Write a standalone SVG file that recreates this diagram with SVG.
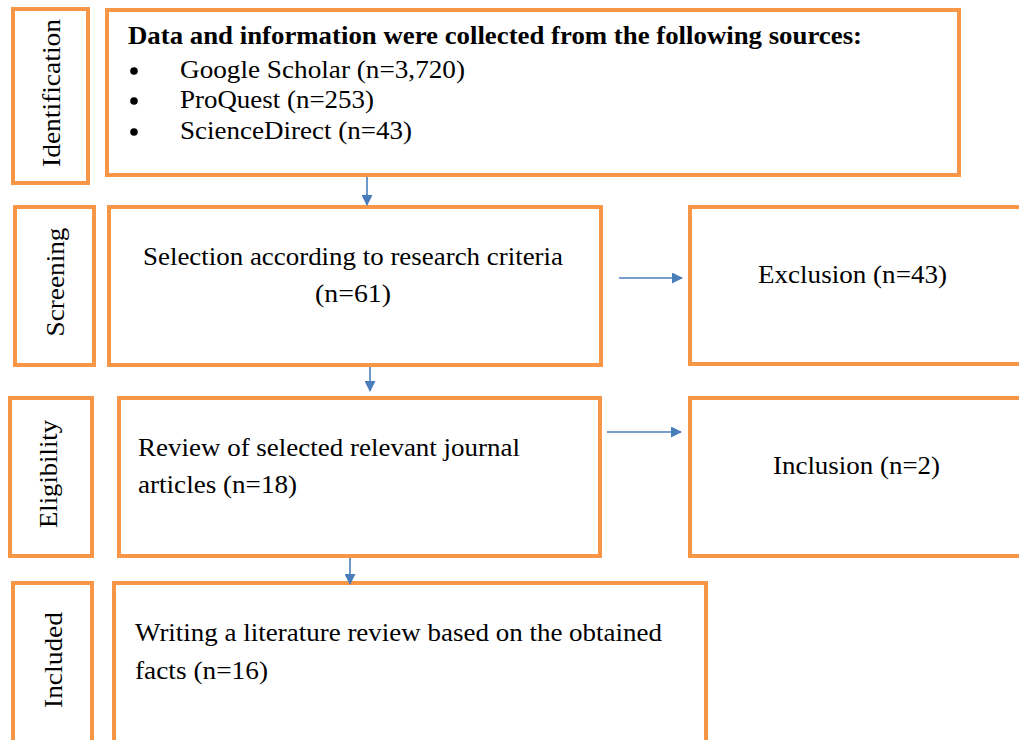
<svg xmlns="http://www.w3.org/2000/svg" width="1019" height="740" viewBox="0 0 1019 740" font-family="'Liberation Serif', 'DejaVu Serif', serif">
<style>
.box{fill:#ffffff;stroke:#F79646;stroke-width:4}
.t{font-size:26px;fill:#000}
.b{font-weight:bold;font-size:25px}
.c{stroke:#4A7EBB;stroke-width:1.6;fill:none}
</style>
<defs>
<marker id="ah" markerWidth="11" markerHeight="11" refX="10" refY="5.5" orient="auto" markerUnits="userSpaceOnUse" viewBox="0 0 11 11">
<path d="M0,0 L11,5.5 L0,11 Z" fill="#4A7EBB"/>
</marker>
</defs>
<rect width="1019" height="740" fill="#ffffff"/>
<g id="stage-identification">
<rect class="box" x="13" y="9" width="75" height="174"/>
<text class="t" font-family="Liberation Serif, serif" transform="translate(60,93) rotate(-90)" text-anchor="middle" textLength="148" lengthAdjust="spacingAndGlyphs">Identification</text>
</g>
<g id="node-sources">
<rect class="box" x="107" y="10" width="852" height="165"/>
<text class="t b" font-family="Liberation Serif, serif" x="128" y="44" textLength="734" lengthAdjust="spacingAndGlyphs">Data and information were collected from the following sources:</text>
<circle cx="134" cy="71" r="3.8" fill="#000"/>
<circle cx="134" cy="101" r="3.8" fill="#000"/>
<circle cx="134" cy="132" r="3.8" fill="#000"/>
<text class="t" font-family="Liberation Serif, serif" x="180" y="78" textLength="285" lengthAdjust="spacingAndGlyphs">Google Scholar (n=3,720)</text>
<text class="t" font-family="Liberation Serif, serif" x="180" y="108" textLength="194" lengthAdjust="spacingAndGlyphs">ProQuest (n=253)</text>
<text class="t" font-family="Liberation Serif, serif" x="180" y="139" textLength="232" lengthAdjust="spacingAndGlyphs">ScienceDirect (n=43)</text>
</g>
<g id="stage-screening">
<rect class="box" x="15" y="207" width="79" height="158"/>
<text class="t" font-family="Liberation Serif, serif" transform="translate(64,282) rotate(-90)" text-anchor="middle" textLength="109" lengthAdjust="spacingAndGlyphs">Screening</text>
</g>
<g id="node-selection">
<rect class="box" x="109" y="207" width="492" height="158"/>
<text class="t" font-family="Liberation Serif, serif" x="143" y="265" textLength="420" lengthAdjust="spacingAndGlyphs">Selection according to research criteria</text>
<text class="t" font-family="Liberation Serif, serif" x="353" y="302" text-anchor="middle" textLength="76" lengthAdjust="spacingAndGlyphs">(n=61)</text>
</g>
<g id="node-exclusion">
<rect class="box" x="690" y="207" width="340" height="157"/>
<text class="t" font-family="Liberation Serif, serif" x="758" y="283" textLength="189" lengthAdjust="spacingAndGlyphs">Exclusion (n=43)</text>
</g>
<g id="stage-eligibility">
<rect class="box" x="10" y="398" width="82" height="158"/>
<text class="t" font-family="Liberation Serif, serif" transform="translate(57,474) rotate(-90)" text-anchor="middle" textLength="108" lengthAdjust="spacingAndGlyphs">Eligibility</text>
</g>
<g id="node-review">
<rect class="box" x="119" y="398" width="481" height="158"/>
<text class="t" font-family="Liberation Serif, serif" x="138" y="456" textLength="382" lengthAdjust="spacingAndGlyphs">Review of selected relevant journal</text>
<text class="t" font-family="Liberation Serif, serif" x="138" y="493" textLength="159" lengthAdjust="spacingAndGlyphs">articles (n=18)</text>
</g>
<g id="node-inclusion">
<rect class="box" x="690" y="398" width="340" height="158"/>
<text class="t" font-family="Liberation Serif, serif" x="773" y="474" textLength="167" lengthAdjust="spacingAndGlyphs">Inclusion (n=2)</text>
</g>
<g id="stage-included">
<rect class="box" x="13" y="583" width="79" height="170"/>
<text class="t" font-family="Liberation Serif, serif" transform="translate(62,660) rotate(-90)" text-anchor="middle" textLength="96" lengthAdjust="spacingAndGlyphs">Included</text>
</g>
<g id="node-writing">
<rect class="box" x="114" y="583" width="592" height="170"/>
<text class="t" font-family="Liberation Serif, serif" x="135" y="641" textLength="527" lengthAdjust="spacingAndGlyphs">Writing a literature review based on the obtained</text>
<text class="t" font-family="Liberation Serif, serif" x="135" y="679" textLength="133" lengthAdjust="spacingAndGlyphs">facts (n=16)</text>
</g>
<g id="connectors">
<line class="c" x1="367" y1="177" x2="367" y2="205" marker-end="url(#ah)"/>
<line class="c" x1="370" y1="367" x2="370" y2="391" marker-end="url(#ah)"/>
<line class="c" x1="350" y1="558" x2="350" y2="584" marker-end="url(#ah)"/>
<line class="c" x1="619" y1="278" x2="682" y2="278" marker-end="url(#ah)"/>
<line class="c" x1="607" y1="432" x2="681" y2="432" marker-end="url(#ah)"/>
</g>
</svg>
